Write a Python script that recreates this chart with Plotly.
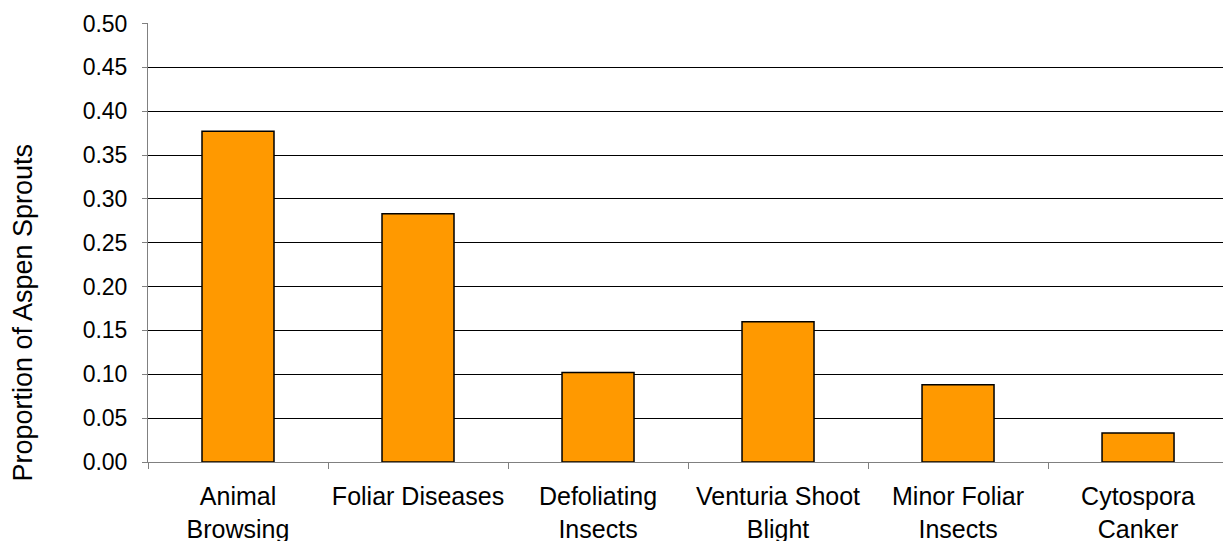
import plotly.graph_objects as go

categories = ["Animal<br>Browsing", "Foliar Diseases", "Defoliating<br>Insects",
              "Venturia Shoot<br>Blight", "Minor Foliar<br>Insects", "Cytospora<br>Canker"]
proportions = [0.377, 0.283, 0.102, 0.160, 0.088, 0.033]
y_ticks = [0.0, 0.05, 0.10, 0.15, 0.20, 0.25, 0.30, 0.35, 0.40, 0.45, 0.50]
y_title = "Proportion of Aspen Sprouts"

FONT = "Liberation Sans, Arial, sans-serif"

fig = go.Figure(go.Bar(
    x=categories, y=proportions,
    width=0.4,
    marker=dict(color="#FF9900", line=dict(color="#000000", width=1.5)),
))

fig.update_layout(
    width=1223, height=541,
    margin=dict(l=148, r=0, t=23, b=79),
    paper_bgcolor="white", plot_bgcolor="white",
    font=dict(family=FONT, size=23, color="#000000"),
    showlegend=False,
    bargap=0.6,
)

fig.update_xaxes(
    type="category",
    range=[-0.5, 5.472],
    tickson="boundaries",
    ticks="outside", ticklen=6, tickcolor="#808080", tickwidth=1,
    showline=True, linecolor="#808080", linewidth=1,
    showgrid=False,
    tickfont=dict(family=FONT, size=25),
    tickangle=0,
    ticklabelstandoff=12,
    automargin=False,
)

fig.update_yaxes(
    range=[0, 0.5005],
    tickvals=y_ticks,
    tickformat=".2f",
    ticks="outside", ticklen=5, tickcolor="#808080", tickwidth=1,
    showline=True, linecolor="#808080", linewidth=1,
    showgrid=True, gridcolor="#000000", gridwidth=1,
    zeroline=False,
    tickfont=dict(family=FONT, size=23),
    ticklabelstandoff=10,
    automargin=False,
)

fig.add_annotation(
    text=y_title, textangle=-90,
    xref="paper", yref="paper",
    x=-0.116, y=0.341,
    xanchor="center", yanchor="middle",
    showarrow=False,
    font=dict(family=FONT, size=27, color="#000000"),
)

fig.write_html("out.html")
